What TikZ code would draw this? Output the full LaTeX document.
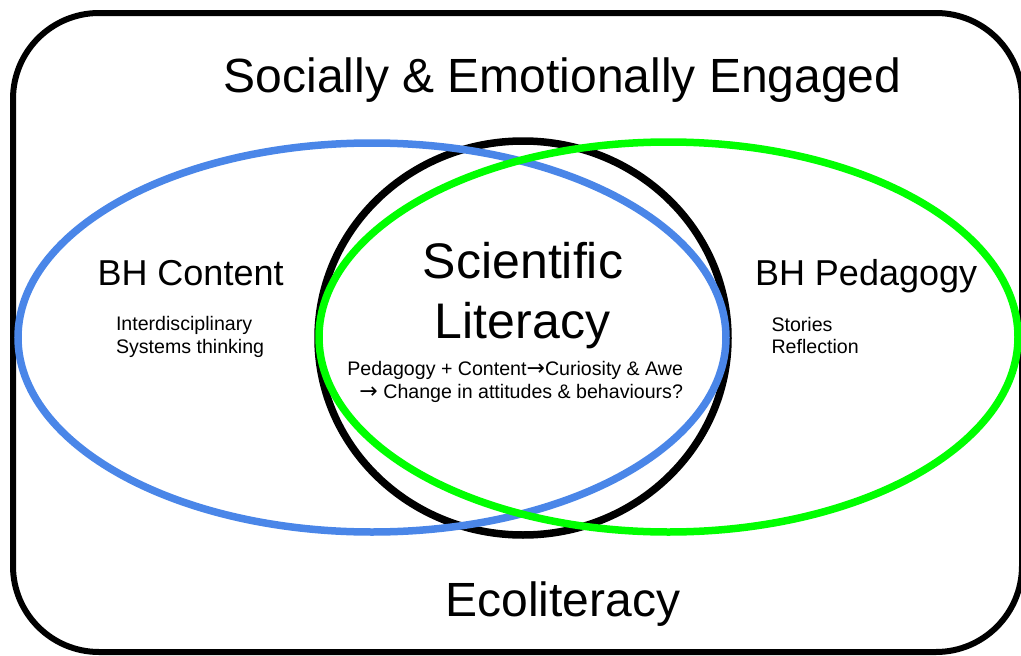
\documentclass[tikz,border=0pt]{standalone}
\usepackage{fontspec}
\setmainfont{Liberation Sans}
\newfontfamily\arrowfont{DejaVu Sans}
\usetikzlibrary{shapes.geometric}
\definecolor{setblue}{HTML}{4A86E8}
\definecolor{setgreen}{HTML}{00FF00}
\newcommand{\chainarrow}{{\arrowfont\fontsize{22}{23}\selectfont →}}
\begin{document}
\begin{tikzpicture}[x=1pt,y=-1pt,
  ring/.style={line width=7.5pt},
  label/.style={inner sep=0pt,outer sep=0pt,text=black},
  big/.style={label,font=\fontsize{48}{58}\selectfont},
  mid/.style={label,font=\fontsize{36}{43}\selectfont},
  small/.style={label,font=\fontsize{19.6}{23}\selectfont}]
\useasboundingbox (0,0) rectangle (1021,656);

% outer frame
\draw[line width=6pt,rounded corners=86pt] (13,13) rectangle (1022,652);

% the three overlapping sets
\draw[ring,black] (523,338) ellipse [x radius=205pt,y radius=197pt];
\draw[ring,setblue] (372,337.5) ellipse [x radius=354pt,y radius=194.5pt];
\draw[ring,setgreen] (668.5,337) ellipse [x radius=349.5pt,y radius=195pt];

% headings
\node[big,anchor=base] (social) at (562.5,92) {Socially \& Emotionally Engaged};
\node[big,anchor=base] (eco) at (563,616) {Ecoliteracy};

\node[label,anchor=base,font=\fontsize{50}{60}\selectfont] (sci) at (523,278) {Scientific};
\node[label,anchor=base,font=\fontsize{50}{60}\selectfont] (lit) at (522.5,338) {Literacy};

\node[mid,anchor=base west] (content) at (97.5,285) {BH Content};
\node[small,anchor=base west] (contentA) at (116,330) {Interdisciplinary};
\node[small,anchor=base west] (contentB) at (116,353) {Systems thinking};

\node[mid,anchor=base west] (pedagogy) at (755,285) {BH Pedagogy};
\node[small,anchor=base west] (pedA) at (771.5,331) {Stories};
\node[small,anchor=base west] (pedB) at (771.5,353) {Reflection};

\node[small,anchor=base east] (chainA) at (683,375) {Pedagogy + Content\chainarrow Curiosity \& Awe};
\node[small,anchor=base east] (chainB) at (683,398) {\chainarrow\ Change in attitudes \& behaviours?};
\end{tikzpicture}
\end{document}
